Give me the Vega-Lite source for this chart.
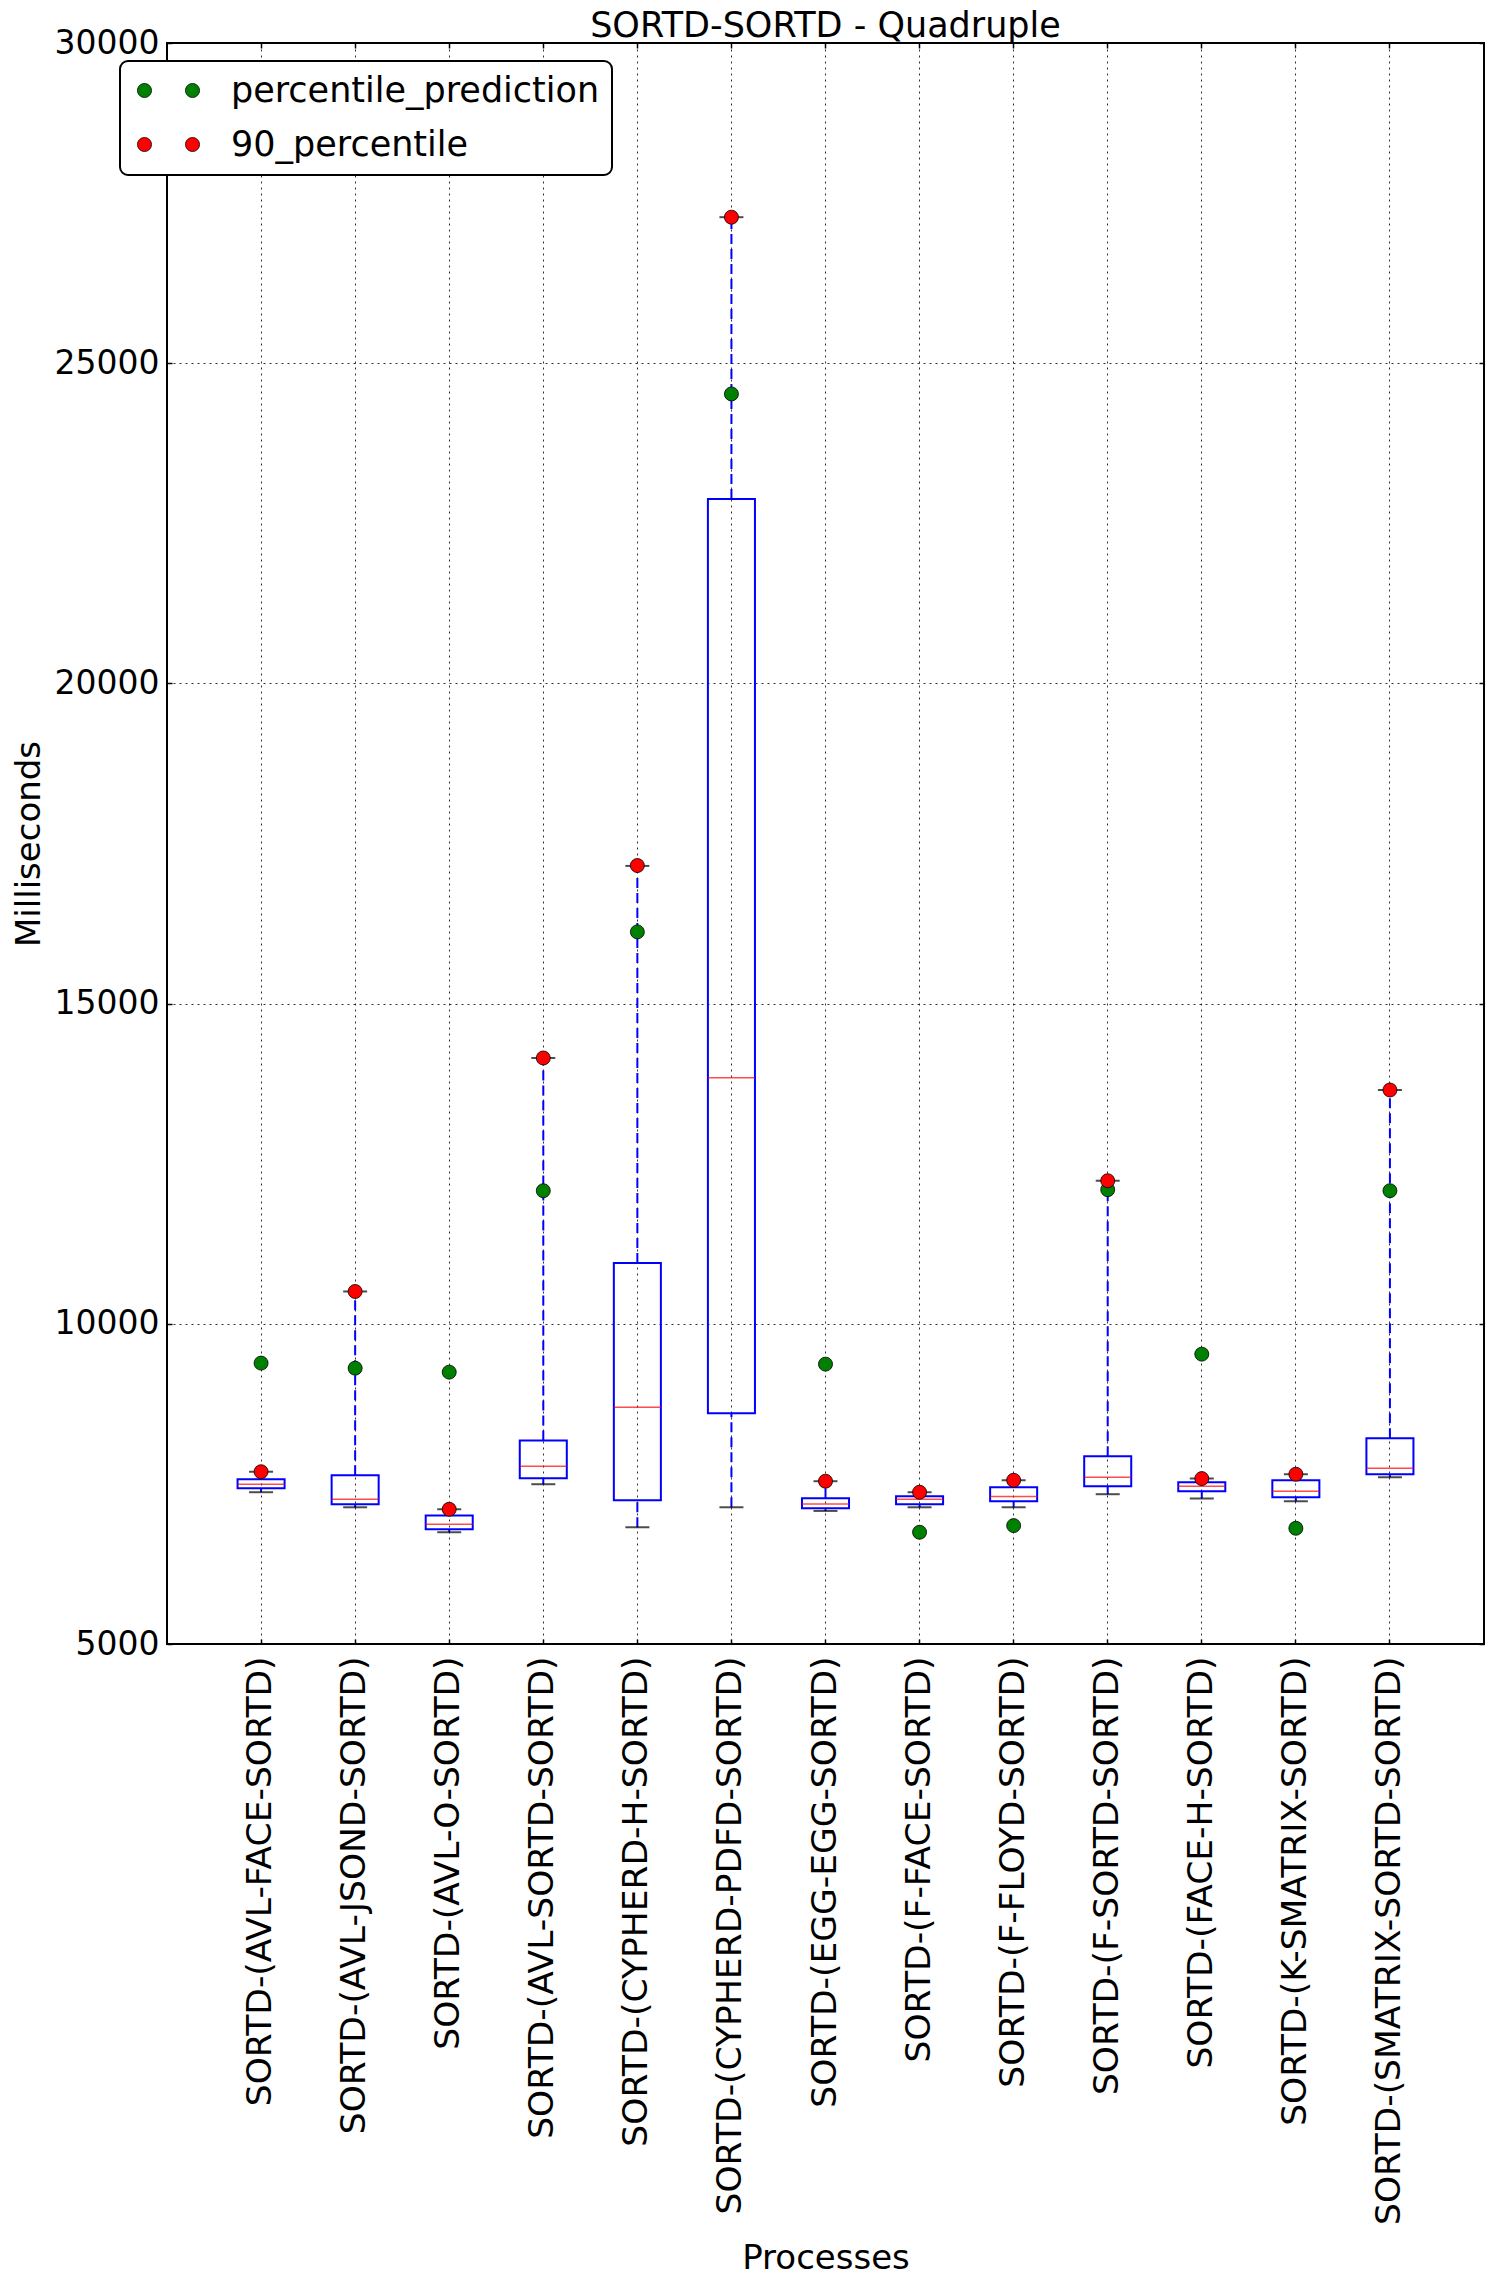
{
  "$schema": "https://vega.github.io/schema/vega-lite/v6.json",
  "width": 1317,
  "height": 1601,
  "autosize": {"type": "none"},
  "padding": {"left": 167, "top": 43, "right": 10, "bottom": 640},
  "background": "white",
  "title": {"text": "SORTD-SORTD - Quadruple", "anchor": "middle", "baseline": "alphabetic", "offset": -45, "font": "DejaVu Sans", "fontSize": 35, "fontWeight": "normal", "color": "black"},
  "config": {
    "view": {"stroke": "black", "strokeWidth": 2},
    "font": "DejaVu Sans",
    "axis": {"labelFont": "DejaVu Sans", "titleFont": "DejaVu Sans", "labelColor": "black", "titleColor": "black", "titleFontWeight": "normal", "domain": false, "tickColor": "black", "tickSize": -5, "tickWidth": 1.5, "grid": true, "gridColor": "black", "gridDash": [2, 4], "gridWidth": 1, "gridOpacity": 0.8, "zindex": 1},
    "axisY": {"labelFontSize": 33, "labelPadding": 13, "titleFontSize": 34, "titlePadding": 8},
    "axisX": {"labelFontSize": 34.5, "labelAngle": 270, "labelPadding": 17, "titleFontSize": 34, "bandPosition": 0.5, "labelLimit": 1000}
  },
  "datasets": {
    "boxes": [
      {"process": "SORTD-(AVL-FACE-SORTD)", "lw": 7370, "q1": 7432, "med": 7495, "q3": 7573, "uw": 7690},
      {"process": "SORTD-(AVL-JSOND-SORTD)", "lw": 7135, "q1": 7182, "med": 7260, "q3": 7635, "uw": 10505},
      {"process": "SORTD-(AVL-O-SORTD)", "lw": 6745, "q1": 6792, "med": 6870, "q3": 7005, "uw": 7104},
      {"process": "SORTD-(AVL-SORTD-SORTD)", "lw": 7495, "q1": 7589, "med": 7776, "q3": 8177, "uw": 14151},
      {"process": "SORTD-(CYPHERD-H-SORTD)", "lw": 6823, "q1": 7245, "med": 8698, "q3": 10948, "uw": 17150},
      {"process": "SORTD-(CYPHERD-PDFD-SORTD)", "lw": 7135, "q1": 8604, "med": 13841, "q3": 22878, "uw": 27280},
      {"process": "SORTD-(EGG-EGG-SORTD)", "lw": 7078, "q1": 7120, "med": 7187, "q3": 7276, "uw": 7542},
      {"process": "SORTD-(F-FACE-SORTD)", "lw": 7135, "q1": 7182, "med": 7260, "q3": 7307, "uw": 7370},
      {"process": "SORTD-(F-FLOYD-SORTD)", "lw": 7135, "q1": 7229, "med": 7302, "q3": 7448, "uw": 7557},
      {"process": "SORTD-(F-SORTD-SORTD)", "lw": 7339, "q1": 7464, "med": 7604, "q3": 7932, "uw": 12234},
      {"process": "SORTD-(FACE-H-SORTD)", "lw": 7271, "q1": 7385, "med": 7464, "q3": 7526, "uw": 7583},
      {"process": "SORTD-(K-SMATRIX-SORTD)", "lw": 7229, "q1": 7292, "med": 7385, "q3": 7557, "uw": 7651},
      {"process": "SORTD-(SMATRIX-SORTD-SORTD)", "lw": 7604, "q1": 7651, "med": 7745, "q3": 8214, "uw": 13651}
    ],
    "points": [
      {"process": "SORTD-(AVL-FACE-SORTD)", "series": "percentile_prediction", "value": 9386},
      {"process": "SORTD-(AVL-JSOND-SORTD)", "series": "percentile_prediction", "value": 9307},
      {"process": "SORTD-(AVL-O-SORTD)", "series": "percentile_prediction", "value": 9245},
      {"process": "SORTD-(AVL-SORTD-SORTD)", "series": "percentile_prediction", "value": 12078},
      {"process": "SORTD-(CYPHERD-H-SORTD)", "series": "percentile_prediction", "value": 16120},
      {"process": "SORTD-(CYPHERD-PDFD-SORTD)", "series": "percentile_prediction", "value": 24520},
      {"process": "SORTD-(EGG-EGG-SORTD)", "series": "percentile_prediction", "value": 9370},
      {"process": "SORTD-(F-FACE-SORTD)", "series": "percentile_prediction", "value": 6745},
      {"process": "SORTD-(F-FLOYD-SORTD)", "series": "percentile_prediction", "value": 6849},
      {"process": "SORTD-(F-SORTD-SORTD)", "series": "percentile_prediction", "value": 12094},
      {"process": "SORTD-(FACE-H-SORTD)", "series": "percentile_prediction", "value": 9526},
      {"process": "SORTD-(K-SMATRIX-SORTD)", "series": "percentile_prediction", "value": 6807},
      {"process": "SORTD-(SMATRIX-SORTD-SORTD)", "series": "percentile_prediction", "value": 12078},
      {"process": "SORTD-(AVL-FACE-SORTD)", "series": "90_percentile", "value": 7690},
      {"process": "SORTD-(AVL-JSOND-SORTD)", "series": "90_percentile", "value": 10505},
      {"process": "SORTD-(AVL-O-SORTD)", "series": "90_percentile", "value": 7104},
      {"process": "SORTD-(AVL-SORTD-SORTD)", "series": "90_percentile", "value": 14151},
      {"process": "SORTD-(CYPHERD-H-SORTD)", "series": "90_percentile", "value": 17156},
      {"process": "SORTD-(CYPHERD-PDFD-SORTD)", "series": "90_percentile", "value": 27280},
      {"process": "SORTD-(EGG-EGG-SORTD)", "series": "90_percentile", "value": 7542},
      {"process": "SORTD-(F-FACE-SORTD)", "series": "90_percentile", "value": 7370},
      {"process": "SORTD-(F-FLOYD-SORTD)", "series": "90_percentile", "value": 7557},
      {"process": "SORTD-(F-SORTD-SORTD)", "series": "90_percentile", "value": 12234},
      {"process": "SORTD-(FACE-H-SORTD)", "series": "90_percentile", "value": 7583},
      {"process": "SORTD-(K-SMATRIX-SORTD)", "series": "90_percentile", "value": 7651},
      {"process": "SORTD-(SMATRIX-SORTD-SORTD)", "series": "90_percentile", "value": 13651}
    ]
  },
  "layer": [
    {
      "encoding": {
        "x": {"field": "process", "type": "nominal", "sort": null, "title": "Processes",
          "scale": {"paddingInner": 0.5, "paddingOuter": 0.75},
          "axis": {"titleY": 624, "titleBaseline": "alphabetic"}}
      },
      "layer": [
        {
          "data": {"name": "boxes"},
          "mark": {"type": "rule", "color": "#0000ff", "strokeWidth": 2, "strokeDash": [10, 5]},
          "encoding": {
            "y": {"field": "lw", "type": "quantitative", "title": "Milliseconds",
              "scale": {"domain": [5000, 30000], "nice": false, "zero": false},
              "axis": {"values": [5000, 10000, 15000, 20000, 25000, 30000], "format": "d"}},
            "y2": {"field": "q1"}
          }
        },
        {
          "data": {"name": "boxes"},
          "mark": {"type": "rule", "color": "#0000ff", "strokeWidth": 2, "strokeDash": [10, 5]},
          "encoding": {
            "y": {"field": "q3", "type": "quantitative", "title": "Milliseconds"},
            "y2": {"field": "uw"}
          }
        },
        {
          "data": {"name": "boxes"},
          "mark": {"type": "bar", "filled": false, "color": "#0000ff", "strokeWidth": 2},
          "encoding": {
            "y": {"field": "q1", "type": "quantitative", "title": "Milliseconds"},
            "y2": {"field": "q3"}
          }
        },
        {
          "data": {"name": "boxes"},
          "mark": {"type": "tick", "color": "#ff0000", "size": 47, "thickness": 1.5},
          "encoding": {
            "y": {"field": "med", "type": "quantitative", "title": "Milliseconds"}
          }
        },
        {
          "data": {"name": "boxes"},
          "mark": {"type": "tick", "color": "black", "size": 24, "thickness": 2},
          "encoding": {
            "y": {"field": "lw", "type": "quantitative", "title": "Milliseconds"}
          }
        },
        {
          "data": {"name": "boxes"},
          "mark": {"type": "tick", "color": "black", "size": 24, "thickness": 2},
          "encoding": {
            "y": {"field": "uw", "type": "quantitative", "title": "Milliseconds"}
          }
        },
        {
          "data": {"name": "points"},
          "mark": {"type": "point", "shape": "circle", "filled": true, "size": 196, "opacity": 1, "stroke": "black", "strokeWidth": 0.8},
          "encoding": {
            "y": {"field": "value", "type": "quantitative", "title": "Milliseconds"},
            "color": {"field": "series", "type": "nominal", "sort": null,
              "scale": {"domain": ["percentile_prediction", "90_percentile"], "range": ["#008000", "#ff0000"]},
              "legend": {
                "orient": "none", "legendX": -47, "legendY": 18, "title": null,
                "strokeColor": "black", "cornerRadius": 8, "padding": 12, "fillColor": "white",
                "labelFontSize": 35, "labelFont": "DejaVu Sans", "labelColor": "black", "labelLimit": 1000,
                "symbolType": "M -4.43 0 A 1 1 0 1 1 -2.43 0 A 1 1 0 1 1 -4.43 0 Z M 2.43 0 A 1 1 0 1 1 4.43 0 A 1 1 0 1 1 2.43 0 Z",
                "symbolSize": 196, "symbolStrokeColor": "black", "symbolStrokeWidth": 0.8, "symbolOpacity": 1,
                "symbolOffset": 19, "labelOffset": 45, "rowPadding": 18,
                "zindex": 2,
                "encode": {"legend": {"update": {"strokeWidth": {"value": 2}}}}
              }
            }
          }
        }
      ]
    },
    {
      "data": {"name": "boxes"},
      "mark": {"type": "tick", "opacity": 0},
      "encoding": {
        "x": {"field": "process", "type": "nominal", "sort": null,
          "axis": {"orient": "top", "labels": false, "grid": false, "title": null, "ticks": true}},
        "y": {"field": "lw", "type": "quantitative",
          "axis": {"orient": "right", "labels": false, "grid": false, "title": null, "values": [5000, 10000, 15000, 20000, 25000, 30000]}}
      }
    }
  ],
  "resolve": {"axis": {"x": "independent", "y": "independent"}}
}
